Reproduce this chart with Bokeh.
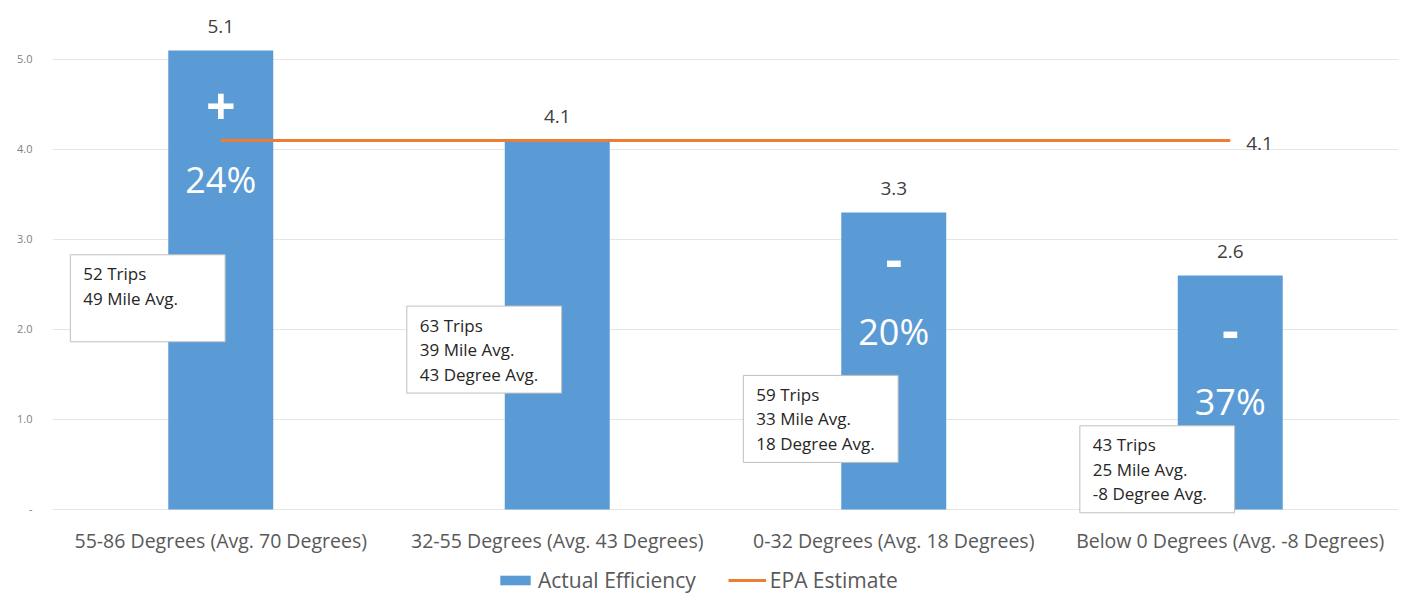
from bokeh.plotting import figure
from bokeh.models import Range1d, FixedTicker, Legend, LegendItem, ColumnDataSource
from bokeh.core.properties import value
from bokeh.embed import file_html
from bokeh.resources import INLINE

categories = ["55-86 Degrees (Avg. 70 Degrees)", "32-55 Degrees (Avg. 43 Degrees)",
              "0-32 Degrees (Avg. 18 Degrees)", "Below 0 Degrees (Avg. -8 Degrees)"]
actual = [5.1, 4.1, 3.3, 2.6]
epa = [4.1, 4.1, 4.1, 4.1]
signs = ["+", "", "-", "-"]
pcts = ["24%", "", "20%", "37%"]
notes = [["52 Trips", "49 Mile Avg."],
         ["63 Trips", "39 Mile Avg.", "43 Degree Avg."],
         ["59 Trips", "33 Mile Avg.", "18 Degree Avg."],
         ["43 Trips", "25 Mile Avg.", "-8 Degree Avg."]]
y_ticks = [0, 1, 2, 3, 4, 5]
y_tick_labels = ["-", "1.0", "2.0", "3.0", "4.0", "5.0"]

# layout constants
FONT = "Open Sans"
BLUE = "#5B9BD5"
ORANGE = "#ED7D31"
PX = 1 / 90.0  # data units per pixel (y)
note_tops = [2.83, 2.26, 1.49, 0.93]
sign_offsets = [56, 0, 47, 55]     # px below bar top
pct_offsets = [129, 0, 119, 126]   # px below bar top

W, H = 1406, 595
p = figure(width=W, height=H, output_backend="svg", toolbar_location=None,
           x_range=Range1d(0, 4), y_range=Range1d(-86 * PX, 5.544),
           min_border_left=52, min_border_right=8, min_border_top=10, min_border_bottom=0)
p.outline_line_color = None
p.background_fill_color = "white"
p.border_fill_color = "white"

xs = [i + 0.5 for i in range(len(categories))]
src = ColumnDataSource(dict(x=xs, top=actual, epa=epa, lab=[f"{v:.1f}" for v in actual],
                            sign=signs, pct=pcts, cat=categories,
                            soff=sign_offsets, poff=pct_offsets))

bars = p.vbar(x="x", top="top", width=0.312, source=src, fill_color=BLUE, line_color=None)
line = p.line(x="x", y="epa", source=src, line_color=ORANGE, line_width=3)

# value labels above bars
p.text(x="x", y="top", text="lab", source=src, text_align="center", text_baseline="middle",
       y_offset=-24, text_font=value(FONT), text_font_size="19px", text_color="#404040")
# EPA label at end of line
p.text(x=[xs[-1]], y=[epa[-1]], text=[f"{epa[-1]:.1f}"], text_align="left", text_baseline="middle",
       x_offset=16, y_offset=3, text_font=value(FONT), text_font_size="19px", text_color="#404040")
# white sign and percentage inside bars
p.text(x="x", y="top", text="sign", source=src, text_align="center", text_baseline="middle",
       y_offset="soff", text_font=value(FONT), text_font_size="52px", text_font_style="bold",
       text_color="white")
p.text(x="x", y="top", text="pct", source=src, text_align="center", text_baseline="middle",
       y_offset="poff", text_font=value(FONT), text_font_size="36px", text_color="white")

# annotation boxes
bl, br, bt, bb = [], [], [], []
tx, ty, tt = [], [], []
for i, lines in enumerate(notes):
    top = note_tops[i]
    bl.append(xs[i] - 0.447)
    br.append(xs[i] + 0.013)
    bt.append(top)
    bb.append(top - (87 * PX))
    for j, s in enumerate(lines):
        tx.append(xs[i] - 0.447 + 13 / 336.5)
        ty.append(top - (19 + j * 24.5) * PX)
        tt.append(s)
p.quad(left=bl, right=br, top=bt, bottom=bb, fill_color="white", line_color="#bfbfbf", line_width=1)
p.text(x=tx, y=ty, text=tt, text_align="left", text_baseline="middle",
       text_font=value(FONT), text_font_size="17px", text_color="#262626")

# category labels (x axis)
p.text(x="x", y=0, text="cat", source=src, text_align="center", text_baseline="middle",
       y_offset=31, text_font=value(FONT), text_font_size="19.5px", text_color="#595959")
p.xaxis.visible = False

p.yaxis.ticker = FixedTicker(ticks=y_ticks)
p.yaxis.major_label_overrides = {t: l for t, l in zip(y_ticks, y_tick_labels)}
p.yaxis.major_label_text_font = FONT
p.yaxis.major_label_text_font_size = "11px"
p.yaxis.major_label_text_color = "#7f7f7f"
p.yaxis.axis_line_color = None
p.yaxis.major_tick_line_color = None
p.yaxis.minor_tick_line_color = None
p.yaxis.major_label_standoff = 14

p.xgrid.grid_line_color = None
p.ygrid.grid_line_color = "#e6e6e6"
p.ygrid.grid_line_width = 1

legend = Legend(items=[LegendItem(label="Actual Efficiency", renderers=[bars]),
                       LegendItem(label="EPA Estimate", renderers=[line])],
                orientation="horizontal", location=(444, 1),
                label_text_font=FONT, label_text_font_size="21px", label_text_color="#595959",
                glyph_width=38, glyph_height=12, spacing=32, padding=0, margin=0,
                border_line_color=None, background_fill_alpha=0, label_standoff=4)
p.add_layout(legend, "center")

open("out.html", "w").write(file_html(p, INLINE))
